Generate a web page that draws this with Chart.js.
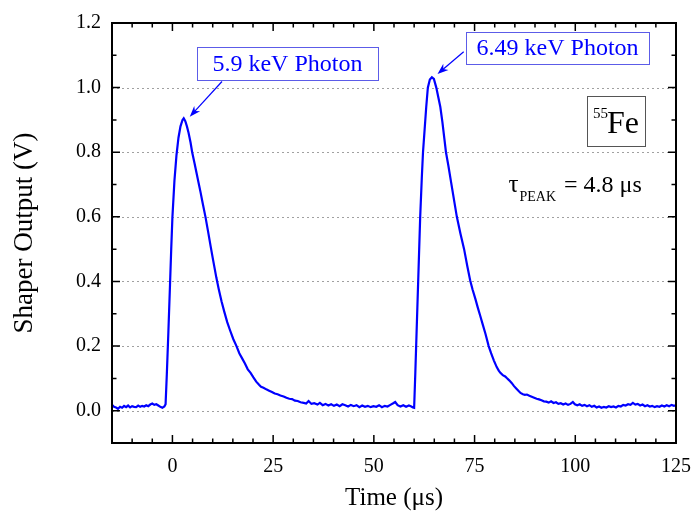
<!DOCTYPE html>
<html>
<head>
<meta charset="utf-8">
<script src="https://cdn.jsdelivr.net/npm/chart.js@4.4.0/dist/chart.umd.min.js"></script>
<style>
html, body { margin: 0; padding: 0; background: #fff; }
</style>
</head>
<body>
<canvas id="shaper" width="692" height="513"></canvas>
<script>
// Shaper output trace (time in us, output in V)
var time = [
	-15, -14.5, -14, -13.5, -13, -12.5, -12, -11.5, -11, -10.5,
	-10, -9.5, -9, -8.5, -8, -7.5, -7, -6.5, -6, -5.5,
	-5, -4.5, -4, -3.5, -3, -2.5, -2, -1.7, -1.4, -1.0,
	-0.6, -0.3, 0.0, 0.5, 1.0, 1.5, 2.0, 2.5, 2.8, 3.2,
	3.6, 4.0, 4.5, 4.9, 5.5, 6.0, 6.5, 7.0, 7.5, 8.2,
	8.8, 9.5, 10.1, 10.9, 11.5, 12.2, 12.9, 13.6, 14.3, 15.1,
	15.9, 16.6, 17.3, 18.0, 18.7, 19.4, 20.1, 20.8, 21.5, 22.0,
	22.6, 23.3, 24.0, 24.7, 25.4, 26.1, 26.8, 27.6, 28.3, 29.0,
	29.7, 30.4, 31.1, 31.8, 32.6, 33.2, 33.8, 34.5, 35.2, 36.0,
	36.6, 37.3, 38.0, 38.7, 39.4, 40.1, 40.8, 41.5, 42.2, 42.9,
	43.6, 44.3, 45.0, 45.7, 46.4, 47.1, 47.8, 48.5, 49.2, 49.9,
	50.6, 51.3, 52.0, 52.7, 53.4, 54.1, 54.8, 55.3, 55.9, 56.6,
	57.3, 58.0, 58.7, 59.3, 59.7, 60.0, 60.3, 60.5, 61.0, 61.5,
	61.9, 62.2, 62.6, 63.0, 63.4, 63.9, 64.4, 64.9, 65.5, 66.0,
	66.5, 67.0, 67.5, 67.9, 68.5, 69.2, 70.0, 70.6, 71.5, 72.4,
	73.2, 73.9, 74.5, 75.2, 75.8, 76.4, 77.0, 77.7, 78.5, 79.1,
	79.8, 80.5, 81.0, 81.4, 82.0, 82.6, 83.0, 83.6, 84.2, 84.8,
	85.4, 86.0, 86.4, 87.0, 87.5, 88.0, 88.6, 89.2, 89.8, 90.4,
	91.0, 91.6, 92.2, 92.8, 93.4, 94.0, 94.6, 95.2, 95.8, 96.4,
	97.0, 97.6, 98.2, 98.8, 99.4, 99.9, 100.5, 101.1, 101.7, 102.3,
	102.9, 103.5, 104.1, 104.7, 105.3, 105.9, 106.5, 107.1, 107.7, 108.3,
	108.9, 109.5, 110.1, 110.7, 111.3, 111.9, 112.5, 113.1, 113.7, 114.3,
	114.9, 115.5, 116.1, 116.7, 117.3, 117.9, 118.5, 119.1, 119.7, 120.3,
	120.9, 121.5, 122.1, 122.7, 123.3, 123.9, 124.5, 125.0
];
var shaperOutput = [
	0.018, 0.012, 0.010, 0.006, 0.012, 0.009, 0.015, 0.011, 0.016, 0.010,
	0.014, 0.012, 0.011, 0.016, 0.012, 0.015, 0.013, 0.017, 0.014, 0.019,
	0.022, 0.018, 0.020, 0.016, 0.012, 0.009, 0.013, 0.020, 0.110, 0.245,
	0.390, 0.500, 0.600, 0.712, 0.790, 0.845, 0.880, 0.900, 0.905, 0.896,
	0.880, 0.860, 0.830, 0.800, 0.765, 0.735, 0.705, 0.675, 0.643, 0.600,
	0.558, 0.508, 0.466, 0.412, 0.376, 0.338, 0.305, 0.274, 0.249, 0.222,
	0.200, 0.178, 0.162, 0.146, 0.128, 0.117, 0.103, 0.090, 0.080, 0.074,
	0.071, 0.066, 0.062, 0.058, 0.053, 0.051, 0.047, 0.044, 0.040, 0.037,
	0.036, 0.031, 0.030, 0.026, 0.024, 0.022, 0.030, 0.021, 0.023, 0.019,
	0.024, 0.017, 0.021, 0.016, 0.020, 0.015, 0.019, 0.014, 0.020, 0.017,
	0.013, 0.018, 0.014, 0.017, 0.011, 0.016, 0.012, 0.015, 0.011, 0.014,
	0.012, 0.017, 0.011, 0.015, 0.013, 0.018, 0.023, 0.027, 0.017, 0.013,
	0.017, 0.012, 0.016, 0.013, 0.010, 0.009, 0.120, 0.200, 0.400, 0.600,
	0.720, 0.800, 0.870, 0.940, 1.000, 1.025, 1.032, 1.027, 1.000, 0.970,
	0.940, 0.895, 0.842, 0.800, 0.758, 0.705, 0.645, 0.600, 0.548, 0.500,
	0.447, 0.404, 0.375, 0.346, 0.319, 0.294, 0.268, 0.238, 0.200, 0.178,
	0.155, 0.135, 0.124, 0.117, 0.110, 0.106, 0.101, 0.094, 0.086, 0.076,
	0.068, 0.060, 0.055, 0.051, 0.049, 0.050, 0.046, 0.043, 0.040, 0.037,
	0.035, 0.032, 0.029, 0.028, 0.025, 0.029, 0.024, 0.026, 0.021, 0.023,
	0.019, 0.022, 0.018, 0.021, 0.027, 0.020, 0.017, 0.020, 0.015, 0.018,
	0.014, 0.017, 0.012, 0.015, 0.010, 0.013, 0.009, 0.012, 0.010, 0.014,
	0.011, 0.013, 0.010, 0.015, 0.013, 0.018, 0.016, 0.020, 0.018, 0.024,
	0.019, 0.021, 0.016, 0.019, 0.014, 0.017, 0.013, 0.015, 0.011, 0.014,
	0.012, 0.016, 0.013, 0.017, 0.014, 0.018, 0.015, 0.017
];
// Axis tick labels
var xTicks = [0, 25, 50, 75, 100, 125];
var yTicks = [0.0, 0.2, 0.4, 0.6, 0.8, 1.0, 1.2];

var serif = '"Liberation Serif", "Times New Roman", serif';
var blue = '#0000ff';

//draws an arrow from (x1,y1) to (x2,y2) in pixels
function arrow(ctx, x1, y1, x2, y2) {
	var ang = Math.atan2(y2 - y1, x2 - x1), L = 11, W = 4;
	var c = Math.cos(ang), s = Math.sin(ang);
	ctx.beginPath();
	ctx.moveTo(x1, y1);
	ctx.lineTo(x2 - c * L * 0.6, y2 - s * L * 0.6);
	ctx.stroke();
	ctx.beginPath();
	ctx.moveTo(x2, y2);
	ctx.lineTo(x2 - L * c + W * s, y2 - L * s - W * c);
	ctx.lineTo(x2 - L * c * 0.7, y2 - L * s * 0.7);
	ctx.lineTo(x2 - L * c - W * s, y2 - L * s + W * c);
	ctx.closePath();
	ctx.fill();
}

//Dotted grid under the trace, frame and inward ticks on top of it
var frameTicks = {
	id: 'frameTicks',
	beforeDatasetsDraw: function(chart) {
		var ctx = chart.ctx, a = chart.chartArea, ys = chart.scales.y;
		ctx.save();
		ctx.strokeStyle = '#a0a0a0';
		ctx.lineWidth = 1;
		ctx.setLineDash([2, 3]);
		yTicks.forEach(function(v) {
			if (v >= 1.2) return;
			var py = Math.round(ys.getPixelForValue(v)) + 0.5;
			ctx.beginPath();
			ctx.moveTo(a.left, py);
			ctx.lineTo(a.right, py);
			ctx.stroke();
		});
		ctx.restore();
	},
	afterDatasetsDraw: function(chart) {
		var ctx = chart.ctx, a = chart.chartArea, xs = chart.scales.x, ys = chart.scales.y;
		ctx.save();
		ctx.strokeStyle = '#000';
		ctx.lineWidth = 1.5;
		ctx.beginPath();
		for (var k = -3; k <= 25; k++) {
			var px = xs.getPixelForValue(k * 5);
			var len = (k % 5 === 0) ? 8 : 4.5;
			ctx.moveTo(px, a.bottom); ctx.lineTo(px, a.bottom - len);
			ctx.moveTo(px, a.top); ctx.lineTo(px, a.top + len);
		}
		for (var j = -1; j <= 12; j++) {
			var py = ys.getPixelForValue(j / 10);
			var ylen = (j % 2 === 0) ? 8 : 4.5;
			ctx.moveTo(a.left, py); ctx.lineTo(a.left + ylen, py);
			ctx.moveTo(a.right, py); ctx.lineTo(a.right - ylen, py);
		}
		ctx.stroke();
		ctx.lineWidth = 2;
		ctx.strokeRect(a.left, a.top, a.right - a.left, a.bottom - a.top);
		ctx.restore();
	}
};

//Labels, boxes and arrows placed in data units
var notes = {
	id: 'notes',
	afterDraw: function(chart) {
		var ctx = chart.ctx, xs = chart.scales.x, ys = chart.scales.y;
		function X(v) { return xs.getPixelForValue(v); }
		function Y(v) { return ys.getPixelForValue(v); }
		ctx.save();

		// photon boxes
		[[6.1, 1.125, 51.0, 1.022, '5.9 keV Photon'], [72.9, 1.173, 118.3, 1.073, '6.49 keV Photon']].forEach(function(b) {
			var x1 = X(b[0]), y1 = Y(b[1]), x2 = X(b[2]), y2 = Y(b[3]);
			ctx.strokeStyle = '#5c5ce8';
			ctx.lineWidth = 1;
			ctx.strokeRect(Math.round(x1) + 0.5, Math.round(y1) + 0.5, Math.round(x2 - x1), Math.round(y2 - y1));
			ctx.fillStyle = blue;
			ctx.font = '24px ' + serif;
			ctx.textAlign = 'center';
			ctx.textBaseline = 'middle';
			ctx.fillText(b[4], (x1 + x2) / 2, (y1 + y2) / 2 + 1);
		});

		// arrows to the peaks
		ctx.strokeStyle = blue;
		ctx.fillStyle = blue;
		ctx.lineWidth = 1.2;
		arrow(ctx, X(12.3), Y(1.019), X(4.3), Y(0.910));
		arrow(ctx, X(72.3), Y(1.111), X(65.8), Y(1.042));

		// 55Fe box
		var fx1 = X(102.9), fy1 = Y(0.975), fx2 = X(117.4), fy2 = Y(0.821);
		ctx.strokeStyle = '#555';
		ctx.lineWidth = 1;
		ctx.strokeRect(Math.round(fx1) + 0.5, Math.round(fy1) + 0.5, Math.round(fx2 - fx1), Math.round(fy2 - fy1));
		ctx.fillStyle = '#000';
		ctx.textAlign = 'left';
		ctx.textBaseline = 'alphabetic';
		ctx.font = '15px ' + serif;
		ctx.fillText('55', X(104.4), Y(0.859) - 15);
		ctx.font = '32px ' + serif;
		ctx.fillText('Fe', X(104.4) + 14, Y(0.859));

		// tau peak label
		var tx = X(83.4), ty = Y(0.678);
		ctx.font = '25px ' + serif;
		ctx.fillText('\u03c4', tx, ty);
		tx += ctx.measureText('\u03c4').width + 1;
		ctx.font = '14px ' + serif;
		ctx.fillText('PEAK', tx, ty + 9);
		tx += ctx.measureText('PEAK').width + 2;
		ctx.font = '24px ' + serif;
		ctx.fillText(' = 4.8 \u03bcs', tx, ty);
		ctx.restore();
	}
};

var ctx = document.getElementById('shaper').getContext('2d');
var shaperChart = new Chart(ctx, {
	type: 'scatter',
	data: {
		datasets: [{
			data: time.map(function(t, i) { return {x: t, y: shaperOutput[i]}; }),
			showLine: true,
			borderColor: blue,
			borderWidth: 2.2,
			pointRadius: 0,
			tension: 0
		}]
	},
	options: {
		responsive: false,
		animation: false,
		layout: { padding: { top: 23, right: 16, left: 0, bottom: 0 } },
		plugins: { legend: { display: false }, tooltip: { enabled: false } },
		scales: {
			x: {
				type: 'linear',
				min: -15,
				max: 125,
				grid: { display: false, drawTicks: false },
				border: { display: false },
				afterBuildTicks: function(s) { s.ticks = xTicks.map(function(v) { return {value: v}; }); },
				afterFit: function(s) { s.height = 70; s.paddingLeft = 0; s.paddingRight = 0; },
				ticks: { color: '#000', padding: 12, font: { family: serif, size: 20 }, maxRotation: 0 },
				title: { display: true, text: 'Time (\u03bcs)', color: '#000', font: { family: serif, size: 25, lineHeight: 1 }, padding: { top: 0, bottom: 2 } }
			},
			y: {
				type: 'linear',
				min: -0.1,
				max: 1.2,
				grid: { display: false, drawTicks: false },
				border: { display: false },
				afterBuildTicks: function(s) { s.ticks = yTicks.map(function(v) { return {value: v}; }); },
				afterFit: function(s) { s.width = 112; s.paddingTop = 0; s.paddingBottom = 0; },
				ticks: { color: '#000', padding: 11, font: { family: serif, size: 20 }, callback: function(v) { return v.toFixed(1); } },
				title: { display: true, text: 'Shaper Output (V)', color: '#000', font: { family: serif, size: 27, lineHeight: 1 }, padding: { top: 11, bottom: 0 } }
			}
		}
	},
	plugins: [frameTicks, notes]
});
</script>
</body>
</html>
